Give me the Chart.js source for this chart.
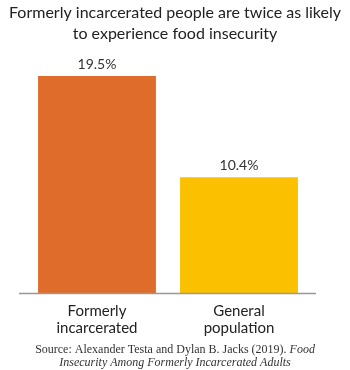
<!DOCTYPE html>
<html>
<head>
<meta charset="utf-8">
<script src="https://cdn.jsdelivr.net/npm/chart.js@4"></script>
<style>
  body { margin: 0; background: #fff; }
  #wrap { width: 350px; height: 370px; }
</style>
</head>
<body>
<div id="wrap"><canvas id="foodChart" width="350" height="370"></canvas></div>
<script>
const categories = [["Formerly", "incarcerated"], ["General", "population"]];
const shares = [19.5, 10.4];
const barColors = ["#E06C2C", "#FBC000"];
const titleLines = ["Formerly incarcerated people are twice as likely", "to experience food insecurity"];
const sourcePlain = "Source: Alexander Testa and Dylan B. Jacks (2019). ";
const sourceItalic1 = "Food";
const sourceItalic2 = "Insecurity Among Formerly Incarcerated Adults";

const sansFont = "Lato, 'Open Sans', sans-serif";
const serifFont = "'Liberation Serif', 'DejaVu Serif', serif";

// title, value labels above bars, baseline and source note
const extras = {
  id: "extras",
  afterDatasetsDraw(chart) {
    const ctx = chart.ctx;
    const cx = chart.width / 2;
    ctx.save();
    ctx.fillStyle = "#222";
    ctx.font = "16px " + sansFont;
    ctx.textAlign = "center";
    ctx.textBaseline = "middle";
    ctx.fillText(titleLines[0], cx, 13);
    ctx.fillText(titleLines[1], cx, 34);

    const meta = chart.getDatasetMeta(0);
    ctx.fillStyle = "#333";
    ctx.font = "14px " + sansFont;
    ctx.textBaseline = "bottom";
    meta.data.forEach((bar, i) => {
      ctx.fillText(shares[i].toFixed(1) + "%", bar.x, bar.y - 5);
    });

    const area = chart.chartArea;
    ctx.strokeStyle = "#999";
    ctx.lineWidth = 1.5;
    ctx.beginPath();
    ctx.moveTo(area.left - 7, area.bottom + 0.5);
    ctx.lineTo(area.right + 6, area.bottom + 0.5);
    ctx.stroke();

    // source, mixed roman / italic
    ctx.fillStyle = "#333";
    ctx.textBaseline = "middle";
    ctx.textAlign = "left";
    const roman = "12px " + serifFont;
    const ital = "italic 12px " + serifFont;
    ctx.font = roman;
    const w1 = ctx.measureText(sourcePlain).width;
    ctx.font = ital;
    const w2 = ctx.measureText(sourceItalic1).width;
    let x = cx - (w1 + w2) / 2;
    ctx.font = roman;
    ctx.fillText(sourcePlain, x, 350);
    ctx.font = ital;
    ctx.fillText(sourceItalic1, x + w1, 350);
    ctx.textAlign = "center";
    ctx.fillText(sourceItalic2, cx, 363);
    ctx.restore();
  }
};

new Chart(document.getElementById("foodChart"), {
  type: "bar",
  data: {
    labels: categories,
    datasets: [{
      data: shares,
      backgroundColor: barColors,
      barPercentage: 1,
      categoryPercentage: 0.83
    }]
  },
  options: {
    responsive: false,
    animation: false,
    layout: { padding: { left: 26, right: 40, top: 76, bottom: 32 } },
    plugins: {
      legend: { display: false },
      tooltip: { enabled: false },
      title: { display: false }
    },
    scales: {
      x: {
        grid: { display: false },
        border: { display: false },
        ticks: {
          color: "#222",
          padding: 2,
          font: { family: sansFont, size: 15, lineHeight: 1.1 },
          maxRotation: 0
        }
      },
      y: {
        display: false,
        min: 0,
        max: 19.5
      }
    }
  },
  plugins: [extras]
});
</script>
</body>
</html>
